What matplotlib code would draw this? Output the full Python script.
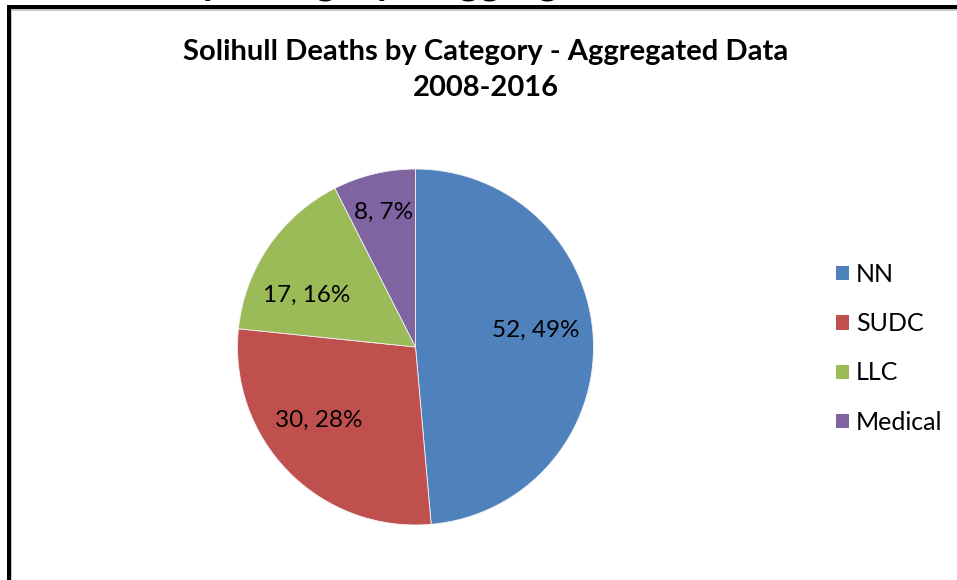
import matplotlib
matplotlib.use("Agg")
import matplotlib.pyplot as plt
from matplotlib.patches import Rectangle
import numpy as np

# data
categories = ["NN", "SUDC", "LLC", "Medical"]
deaths = [52, 30, 17, 8]
colours = ["#4F81BD", "#C0504D", "#9BBB59", "#8064A2"]

chart_title = "Solihull Deaths by Category - Aggregated Data\n2008-2016"
# text of the slide heading, cut off at the top of the picture
cut_heading = "Deaths by Category - Aggregated Data 2008-2016 (All)"

plt.rcParams["font.family"] = ["Lato", "DejaVu Sans"]

W, H = 957, 580
fig = plt.figure(figsize=(W / 100, H / 100), dpi=100)
fig.patch.set_facecolor("white")

# heading above the frame, only its descenders are inside the picture
fig.text(40 / W, (H + 5.5) / H, cut_heading, fontsize=29, fontweight="bold",
         ha="left", va="baseline")

# frame of the chart (thick black line left and top, thin grey inside)
fig.add_artist(Rectangle((7 / W, 0), 4 / W, (H - 5) / H, transform=fig.transFigure,
                         facecolor="black", edgecolor="none"))
fig.add_artist(Rectangle((7 / W, (H - 9) / H), (W - 7) / W, 4 / H, transform=fig.transFigure,
                         facecolor="black", edgecolor="none"))
fig.add_artist(Rectangle((11 / W, 0), 1.2 / W, (H - 9) / H, transform=fig.transFigure,
                         facecolor="#C8C8C8", edgecolor="none"))
fig.add_artist(Rectangle((11 / W, (H - 11) / H), (W - 11) / W, 1.5 / H, transform=fig.transFigure,
                         facecolor="#C8C8C8", edgecolor="none"))

fig.text(486 / W, (H - 70) / H, chart_title, fontsize=21, fontweight="bold",
         ha="center", va="center", linespacing=1.5)

# pie
cx, cy, r = 415.5, 347, 178
ax = fig.add_axes([(cx - r) / W, (H - cy - r) / H, 2 * r / W, 2 * r / H])
total = sum(deaths)
wedges, texts, autotexts = ax.pie(
    deaths, colors=colours, startangle=90, counterclock=False,
    autopct=lambda p: "%d, %d%%" % (round(p * total / 100), round(p)),
    pctdistance=0.68, textprops={"fontsize": 17.5, "color": "black"},
    wedgeprops={"edgecolor": "#F2F2F2", "linewidth": 0.6})

# excel "best fit" label placement: small turn and distance per slice
turn = [5.5, -7.5, 9, 0]
dist = [0.68, 0.68, 0.68, 0.78]
for w, t, a, d in zip(wedges, autotexts, turn, dist):
    ang = np.deg2rad((w.theta1 + w.theta2) / 2 + a)
    t.set_position((d * np.cos(ang), d * np.sin(ang)))

ax.set_xlim(-1, 1)
ax.set_ylim(-1, 1)
ax.set_aspect("equal")
ax.axis("off")

leg = fig.legend(wedges, categories, loc="upper left",
                 bbox_to_anchor=(836 / W, (H - 263) / H),
                 frameon=False, fontsize=18, handlelength=0.5, handleheight=0.5,
                 handletextpad=0.3, labelspacing=1.05, borderpad=0,
                 borderaxespad=0)
for h in leg.legend_handles:
    h.set_edgecolor("none")

fig.savefig("out.png", dpi=100)
